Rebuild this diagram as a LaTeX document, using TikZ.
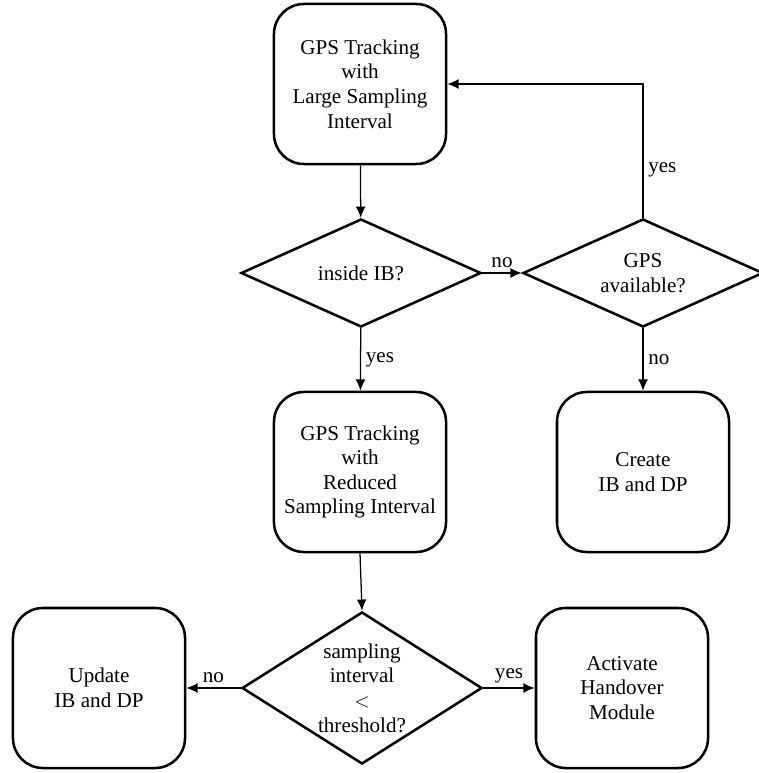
\documentclass[tikz,border=0pt]{standalone}
\usepackage{fontspec}
\setmainfont{Liberation Serif}
\usetikzlibrary{shapes.geometric,arrows.meta}

\tikzset{
	process/.style={draw,line width=1.8pt,rounded corners=0.75cm,align=center,
		minimum width=4.3cm,minimum height=4cm,inner sep=0pt},
	decision/.style={draw,diamond,line width=1.8pt,align=center,inner sep=0pt,
		aspect=2.2,minimum width=6cm,minimum height=2.7cm},
	flow/.style={line width=0.9pt,-{Latex[length=8pt,width=7pt]}}
}

\begin{document}
\begin{tikzpicture}[x=0.025cm,y=-0.025cm,font=\fontsize{15}{17.5}\selectfont]
	\useasboundingbox (0,0) rectangle (758,773);

	% boxes
	\node[process] (track) at (360,84) {GPS Tracking\\with\\Large Sampling\\Interval};
	\node[process] (reduced) at (360,472) {GPS Tracking\\with\\Reduced\\Sampling Interval};
	\node[process] (create) at (643,472) {Create\\IB and DP};
	\node[process] (update) at (99,688) {Update\\IB and DP};
	\node[process] (activate) at (622,688) {Activate\\Handover\\Module};

	% decisions
	\node[decision] (inside) at (361,273) {inside IB?};
	\node[decision] (gpsav) at (643,273) {GPS\\available?};
	\node[decision,aspect=1.6,minimum height=3.8cm] (thresh) at (362,688) {sampling\\interval\\$<$\\threshold?};

	% connectors
	\draw[flow] (track) -- (inside);
	\draw[flow] (inside) -- node[above]{no} (gpsav);
	\draw[flow] (gpsav.north) |- node[pos=0.18,right]{yes} (track.east);
	\draw[flow] (inside) -- node[right]{yes} (reduced);
	\draw[flow] (gpsav) -- node[right]{no} (create);
	\draw[flow] (reduced.south) -- (thresh.north);
	\draw[flow] (thresh) -- node[above]{no} (update);
	\draw[flow] (thresh) -- node[above]{yes} (activate);
\end{tikzpicture}
\end{document}
